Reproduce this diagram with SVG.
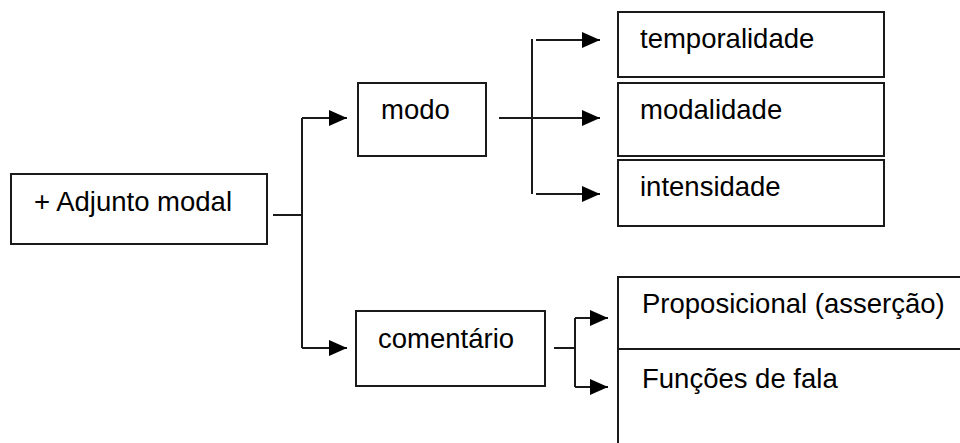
<svg xmlns="http://www.w3.org/2000/svg" width="960" height="443" viewBox="0 0 960 443">
<style>
.box{fill:#fff;stroke:#1a1a1a;stroke-width:2}
.lbl{font-family:"Liberation Sans",Arial,sans-serif;font-size:27.5px;fill:#000}
.con{fill:none;stroke:#1a1a1a;stroke-width:2}
</style>
<defs>
<marker id="ah" markerUnits="userSpaceOnUse" markerWidth="18" markerHeight="16" refX="18" refY="8" orient="auto">
<path d="M0,0 L18,8 L0,16 z" fill="#000"/>
</marker>
</defs>
<rect width="960" height="443" fill="#fff"/>
<g id="adjunto"><rect class="box" x="11" y="174" width="256" height="70"/><text class="lbl" x="34" y="211">+ Adjunto modal</text></g>
<g id="modo"><rect class="box" x="358" y="83" width="128" height="73"/><text class="lbl" x="381" y="119">modo</text></g>
<g id="comentario"><rect class="box" x="356" y="311" width="189" height="75"/><text class="lbl" x="378" y="348">comentário</text></g>
<g id="temporalidade"><rect class="box" x="618" y="12" width="266" height="65"/><text class="lbl" x="640" y="48">temporalidade</text></g>
<g id="modalidade"><rect class="box" x="618" y="83" width="266" height="73"/><text class="lbl" x="640" y="119">modalidade</text></g>
<g id="intensidade"><rect class="box" x="618" y="160" width="266" height="66"/><text class="lbl" x="640" y="196">intensidade</text></g>
<g id="proposicional"><rect class="box" x="618" y="277" width="400" height="72"/><text class="lbl" x="642" y="313">Proposicional (asserção)</text></g>
<g id="funcoes"><rect class="box" x="618" y="349" width="400" height="150"/><text class="lbl" x="642" y="388">Funções de fala</text></g>
<g id="connectors">
<path class="con" d="M273,215 H302"/>
<path class="con" d="M302,118 V348"/>
<path class="con" d="M302,118 H347" marker-end="url(#ah)"/>
<path class="con" d="M302,348 H347" marker-end="url(#ah)"/>
<path class="con" d="M499,118 H600" marker-end="url(#ah)"/>
<path class="con" d="M532,39 V194"/>
<path class="con" d="M536,40 H600" marker-end="url(#ah)"/>
<path class="con" d="M536,194 H600" marker-end="url(#ah)"/>
<path class="con" d="M554,348 H575"/>
<path class="con" d="M575,318 V387"/>
<path class="con" d="M575,318 H608" marker-end="url(#ah)"/>
<path class="con" d="M575,387 H608" marker-end="url(#ah)"/>
</g>
</svg>
